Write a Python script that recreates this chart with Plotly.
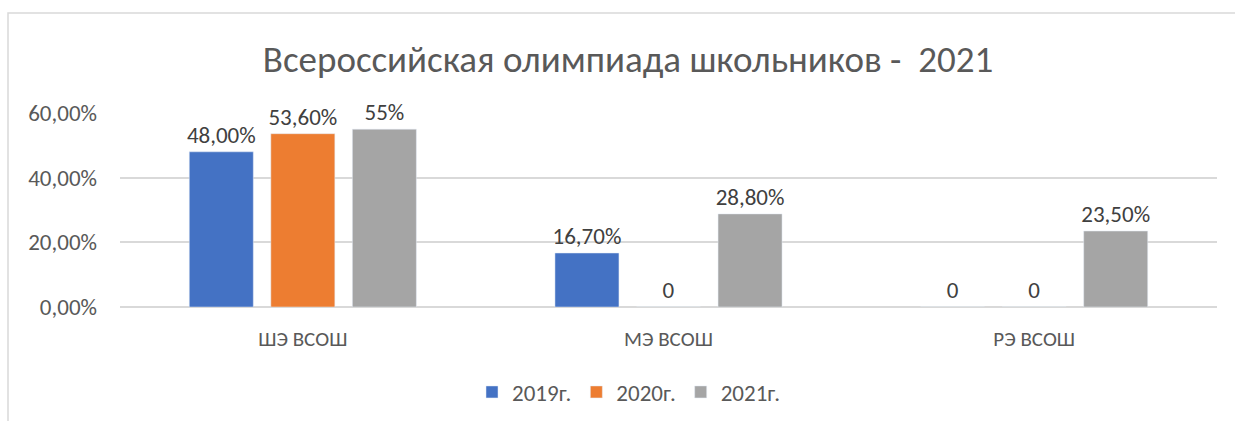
import plotly.graph_objects as go

categories = ["ШЭ ВСОШ", "МЭ ВСОШ", "РЭ ВСОШ"]
series_names = ["2019г.", "2020г.", "2021г."]
v2019 = [0.48, 0.167, 0.0]
v2020 = [0.536, 0.0, 0.0]
v2021 = [0.55, 0.288, 0.235]
t2019 = ["48,00%", "16,70%", "0"]
t2020 = ["53,60%", "0", "0"]
t2021 = ["55%", "28,80%", "23,50%"]
colors = ["#4472C4", "#ED7D31", "#A5A5A5"]
yticks = [0, 0.2, 0.4, 0.6]

FONT = "Calibri, Carlito, Lato, sans-serif"
TXT = "#595959"

fig = go.Figure()
for name, vals, txt, col in zip(series_names, [v2019, v2020, v2021], [t2019, t2020, t2021], colors):
    fig.add_trace(go.Bar(
        x=categories, y=vals, name=name, marker_color=col,
        text=txt, textposition="outside", cliponaxis=False, constraintext="none",
        textfont=dict(size=23, color="#404040", family=FONT),
        hoverinfo="skip",
    ))

fig.update_layout(
    width=1235, height=421,
    margin=dict(l=120, r=18, t=113, b=114, autoexpand=False),
    paper_bgcolor="white", plot_bgcolor="white",
    separators=", ",
    barmode="group", bargap=0.331, bargroupgap=0.215,
    font=dict(family=FONT, color=TXT, size=21),
    title=dict(text="Всероссийская олимпиада школьников -  2021",
               x=628 / 1235, xref="container", xanchor="center", y=1 - 59 / 421, yanchor="middle",
               font=dict(size=37, color=TXT, family=FONT)),
    showlegend=True,
    legend=dict(orientation="h", x=629 / 1235, xref="container", xanchor="center",
                y=1 - 392 / 421, yref="container", yanchor="middle",
                font=dict(size=23, color=TXT, family=FONT), itemwidth=30,
                traceorder="normal"),
    xaxis=dict(showgrid=False, showline=False, ticks="", ticklabelstandoff=17,
               tickfont=dict(size=21, color=TXT, family=FONT)),
    yaxis=dict(range=[0, 0.6], tickvals=yticks, tickformat=".2%", showgrid=True,
               gridcolor="#D9D9D9", gridwidth=1.5, zeroline=True, zerolinecolor="#D9D9D9",
               zerolinewidth=1.5, ticks="", tickfont=dict(size=23, color=TXT, family=FONT),
               ticklabelstandoff=22),
    shapes=[dict(type="rect", xref="paper", yref="paper",
                 x0=(8 - 120) / 1097, x1=1.2, y0=-0.8, y1=(307 - 13) / 194,
                 line=dict(color="#D9D9D9", width=1.5), layer="below")],
)

fig.write_html("out.html")
